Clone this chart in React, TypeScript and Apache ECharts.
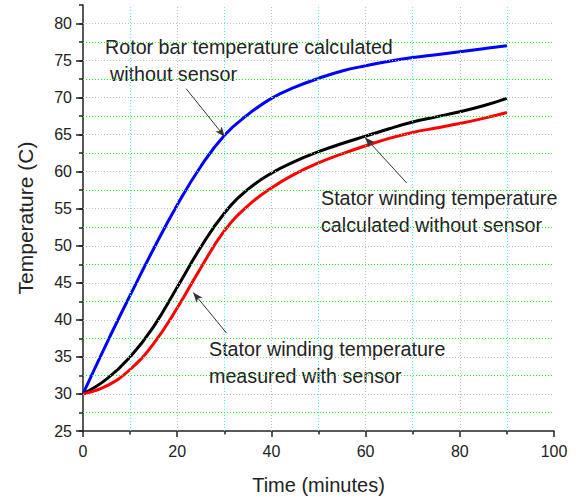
import React, { useEffect, useRef } from "react";
import * as echarts from "echarts";

const times = [0, 5, 10, 15, 20, 25, 30, 35, 40, 45, 50, 55, 60, 65, 70, 75, 80, 85, 90];
const rotorCalc = [30, 36.8, 43.3, 49.6, 55.5, 60.7, 64.9, 67.7, 69.9, 71.4, 72.6, 73.6, 74.3, 74.9, 75.4, 75.8, 76.2, 76.6, 77.0];
const statorCalc = [30, 32.0, 35.0, 39.1, 44.4, 49.8, 54.4, 57.6, 59.8, 61.4, 62.7, 63.8, 64.8, 65.8, 66.7, 67.4, 68.1, 68.9, 69.9];
const statorMeas = [30, 31.1, 33.3, 36.8, 41.6, 47.0, 52.0, 55.4, 57.8, 59.7, 61.2, 62.4, 63.5, 64.5, 65.3, 65.9, 66.5, 67.2, 68.0];

const yTickLabels = [25, 30, 35, 40, 45, 50, 55, 60, 65, 70, 75, 80];
const yMajorGrid = [30, 35, 40, 45, 50, 55, 60, 65, 70, 75, 80];
const yMinorGrid = [27.5, 32.5, 37.5, 42.5, 47.5, 52.5, 57.5, 62.5, 67.5, 72.5, 77.5];
const xMajorGrid = [20, 40, 60, 80];
const xMinorGrid = [10, 30, 50, 70, 90];

// arrows: [from, to] in data coordinates (time, temperature)
const arrows: [number[], number[]][] = [
  [[21.9, 71.2], [30.1, 64.7]],
  [[68.7, 58.5], [59.9, 64.6]],
  [[30.5, 38.2], [23.4, 43.7]],
];

const FONT = "'Liberation Sans', Arial, Helvetica, sans-serif";
const GRAY = "#bdbdbd";
const GREEN = "#22ee22";
const CYAN = "#55eeee";

export default function App() {
  const ref = useRef<HTMLDivElement>(null);
  useEffect(() => {
    document.body.style.margin = "0";
    const chart = echarts.init(ref.current!, null, { renderer: "svg" });
    const lineSeries = (name: string, data: number[], color: string, extra: any = {}) => ({
      name,
      type: "line",
      data: times.map((t, i) => [t, data[i]]),
      smooth: 0.45,
      showSymbol: false,
      symbol: "none",
      lineStyle: { color, width: 3 },
      silent: true,
      z: 3,
      ...extra,
    });
    const gl = (key: string, v: number, color: string) => ({
      [key]: v,
      lineStyle: { color, type: [1, 2], width: 1 },
    });
    const gridLines = [
      ...xMajorGrid.map((v) => gl("xAxis", v, GRAY)),
      ...xMinorGrid.map((v) => gl("xAxis", v, CYAN)),
      ...yMajorGrid.map((v) => gl("yAxis", v, GRAY)),
      ...yMinorGrid.map((v) => gl("yAxis", v, GREEN)),
    ];
    chart.setOption({
      animation: false,
      backgroundColor: "#ffffff",
      textStyle: { fontFamily: FONT },
      grid: { left: 83, right: 22, top: 5, bottom: 71 },
      xAxis: [
        {
          type: "value",
          min: 0,
          max: 100,
          interval: 20,
          name: "Time (minutes)",
          nameLocation: "middle",
          nameGap: 44,
          nameTextStyle: { fontSize: 20, color: "#222", fontFamily: FONT },
          axisLine: { show: true, onZero: false, lineStyle: { color: "#222", width: 1.5 } },
          axisTick: { show: true, length: 6, inside: false, lineStyle: { color: "#222", width: 1.5 } },
          minorTick: { show: true, splitNumber: 2, length: 3.5, lineStyle: { color: "#222", width: 1.5 } },
          axisLabel: { fontSize: 16, color: "#222", margin: 12, fontFamily: FONT },
          splitLine: { show: false },
          minorSplitLine: { show: false },
        },
      ],
      yAxis: [
        {
          type: "value",
          min: 25,
          max: 82.5,
          interval: 2.5,
          position: "left",
          name: "Temperature (C)",
          nameLocation: "middle",
          nameGap: 47,
          nameTextStyle: { fontSize: 21, color: "#222", fontFamily: FONT },
          axisLine: { show: true, onZero: false, lineStyle: { color: "#222", width: 1.5 } },
          axisTick: { show: true, length: 7, customValues: yTickLabels, lineStyle: { color: "#222", width: 1.5 } },
          axisLabel: {
            fontSize: 16,
            color: "#222",
            margin: 11,
            fontFamily: FONT,
            customValues: yTickLabels,
            formatter: (v: number) => (v % 5 === 0 ? String(v) : ""),
          },
          splitLine: { show: false },
        },
        {
          type: "value",
          min: 25,
          max: 82.5,
          interval: 2.5,
          position: "left",
          axisLine: { show: false },
          axisTick: { show: true, length: 4, lineStyle: { color: "#222", width: 1.5 } },
          axisLabel: { show: false },
          splitLine: { show: false },
        },
      ],
      series: [
        {
          name: "grid",
          type: "line",
          data: [],
          silent: true,
          z: 1,
          markLine: {
            silent: true,
            symbol: ["none", "none"],
            label: { show: false },
            emphasis: { disabled: true },
            data: gridLines,
          },
        },
        lineSeries("Rotor bar temperature calculated without sensor", rotorCalc, "#0000ff", {
          markLine: {
            silent: true,
            symbol: ["none", "arrow"],
            symbolSize: [6, 10],
            label: { show: false },
            emphasis: { disabled: true },
            lineStyle: { color: "#333", width: 1, type: "solid" },
            data: arrows.map(([a, b]) => [{ coord: a }, { coord: b }]),
          },
        }),
        lineSeries("Stator winding temperature calculated without sensor", statorCalc, "#000000"),
        lineSeries("Stator winding temperature measured with sensor", statorMeas, "#ff0000"),
      ],
      graphic: [
        { type: "text", left: 105, top: 37, style: { text: "Rotor bar temperature calculated", fontSize: 19.7, fill: "#222", fontFamily: FONT } },
        { type: "text", left: 110, top: 64, style: { text: "without sensor", fontSize: 19.7, fill: "#222", fontFamily: FONT } },
        { type: "text", left: 321, top: 188, style: { text: "Stator winding temperature", fontSize: 19.7, fill: "#222", fontFamily: FONT } },
        { type: "text", left: 321, top: 215, style: { text: "calculated without sensor", fontSize: 19.7, fill: "#222", fontFamily: FONT } },
        { type: "text", left: 209, top: 339, style: { text: "Stator winding temperature", fontSize: 19.7, fill: "#222", fontFamily: FONT } },
        { type: "text", left: 209, top: 366, style: { text: "measured with sensor", fontSize: 19.7, fill: "#222", fontFamily: FONT } },
      ],
    });
    return () => chart.dispose();
  }, []);
  return <div ref={ref} style={{ width: 576, height: 502 }} />;
}
